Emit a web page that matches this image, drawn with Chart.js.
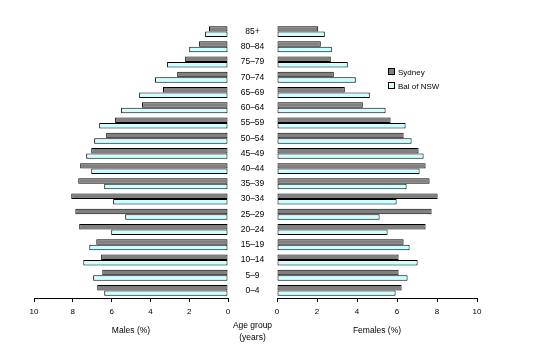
<!DOCTYPE html>
<html><head><meta charset="utf-8">
<script src="https://cdn.jsdelivr.net/npm/chart.js@4"></script>
<style>
html,body{margin:0;padding:0;background:#fff;}
#wrap{position:relative;width:540px;height:364px;overflow:hidden;}
canvas{position:absolute;left:0;top:0;}
#legend{position:absolute;left:388px;top:66px;font:8px 'Liberation Sans',Arial,sans-serif;color:#000;line-height:14px;}
#legend .row{white-space:nowrap;}
#legend .sw{display:inline-block;width:5px;height:5px;border:1px solid #000;margin-right:3px;vertical-align:middle;position:relative;top:-1px;}
#age{position:absolute;left:222px;width:61px;top:320px;text-align:center;font:8.5px 'Liberation Sans',Arial,sans-serif;color:#000;line-height:11.5px;}
</style></head>
<body>
<div id="wrap">
<canvas id="m" width="540" height="364"></canvas>
<canvas id="f" width="540" height="364"></canvas>
<div id="legend">
<div class="row"><span class="sw" style="background:#808080"></span>Sydney</div>
<div class="row"><span class="sw" style="background:#ccffff"></span>Bal of NSW</div>
</div>
<div id="age">Age group<br>(years)</div>
</div>
<script>
const ageGroups = ['0–4','5–9','10–14','15–19','20–24','25–29','30–34','35–39','40–44','45–49','50–54','55–59','60–64','65–69','70–74','75–79','80–84','85+'];
const seriesNames = ['Sydney','Bal of NSW'];
const maleSydney   = [6.74,6.48,6.54,6.79,7.67,7.87,8.08,7.72,7.62,7.05,6.28,5.82,4.43,3.35,2.62,2.21,1.49,0.98];
const maleBalNSW   = [6.38,6.95,7.46,7.15,6.02,5.30,5.92,6.38,7.05,7.31,6.90,6.64,5.51,4.58,3.76,3.14,2.00,1.18];
const femaleSydney = [6.23,6.08,6.08,6.33,7.43,7.73,8.03,7.63,7.43,7.08,6.33,5.68,4.29,3.39,2.84,2.69,2.19,2.06];
const femaleBalNSW = [5.93,6.53,7.03,6.63,5.53,5.13,5.98,6.48,7.13,7.33,6.73,6.43,5.43,4.64,3.94,3.54,2.74,2.39];
const xTicks = [0,2,4,6,8,10];

const tickFont = {family:"'Liberation Sans', Arial, sans-serif", size:8};
const titleFont = {family:"'Liberation Sans', Arial, sans-serif", size:8.5};
const ageFont = {family:"'Liberation Sans Narrow', 'Arial Narrow', 'Liberation Sans', sans-serif", size:8.5};
const GAP = 49;

function makeChart(id, sydney, bal, reverse, pad, showY, title) {
  return new Chart(document.getElementById(id), {
    type: 'bar',
    data: {
      labels: ageGroups,
      datasets: [
        {label: seriesNames[0], data: sydney, backgroundColor: '#808080', borderColor: '#000', borderWidth: 1, borderSkipped: false},
        {label: seriesNames[1], data: bal, backgroundColor: '#ccffff', borderColor: '#000', borderWidth: 1, borderSkipped: false}
      ]
    },
    options: {
      indexAxis: 'y',
      responsive: false,
      animation: false,
      events: [],
      categoryPercentage: 0.72,
      barPercentage: 1,
      layout: {padding: pad},
      plugins: {legend: {display: false}, tooltip: {enabled: false}},
      scales: {
        x: {
          type: 'linear', min: 0, max: 10, reverse: reverse,
          afterBuildTicks: s => { s.ticks = xTicks.map(v => ({value: v})); },
          afterFit: s => { s.height = 40; },
          grid: {drawOnChartArea: false, drawTicks: true, tickLength: 4, color: '#000', lineWidth: 1},
          border: {display: true, color: '#000', width: 1},
          ticks: {color: '#000', font: tickFont, padding: 5, maxRotation: 0, autoSkip: false},
          title: {display: true, text: title, color: '#000', font: titleFont, padding: {top: 0, bottom: 2}}
        },
        y: {
          type: 'category', reverse: true, position: 'right', display: showY,
          grid: {display: false, drawTicks: false},
          border: {display: false},
          ticks: {color: '#000', font: ageFont, crossAlign: 'center', padding: 14, autoSkip: false},
          afterFit: s => {
            if (!showY) { s.width = 0; return; }
            s.width = GAP;
            let w = 18;
            try { w = s._getLabelSizes().widest.width; } catch (e) {}
            s.options.ticks.padding = Math.max(0, (GAP - w) / 2);
          }
        }
      }
    }
  });
}

makeChart('m', maleSydney, maleBalNSW, true, {left: 34, right: 263, top: 24, bottom: 26}, true, 'Males (%)');
makeChart('f', femaleSydney, femaleBalNSW, false, {left: 277, right: 63, top: 24, bottom: 26}, false, 'Females (%)');
</script>
</body></html>
